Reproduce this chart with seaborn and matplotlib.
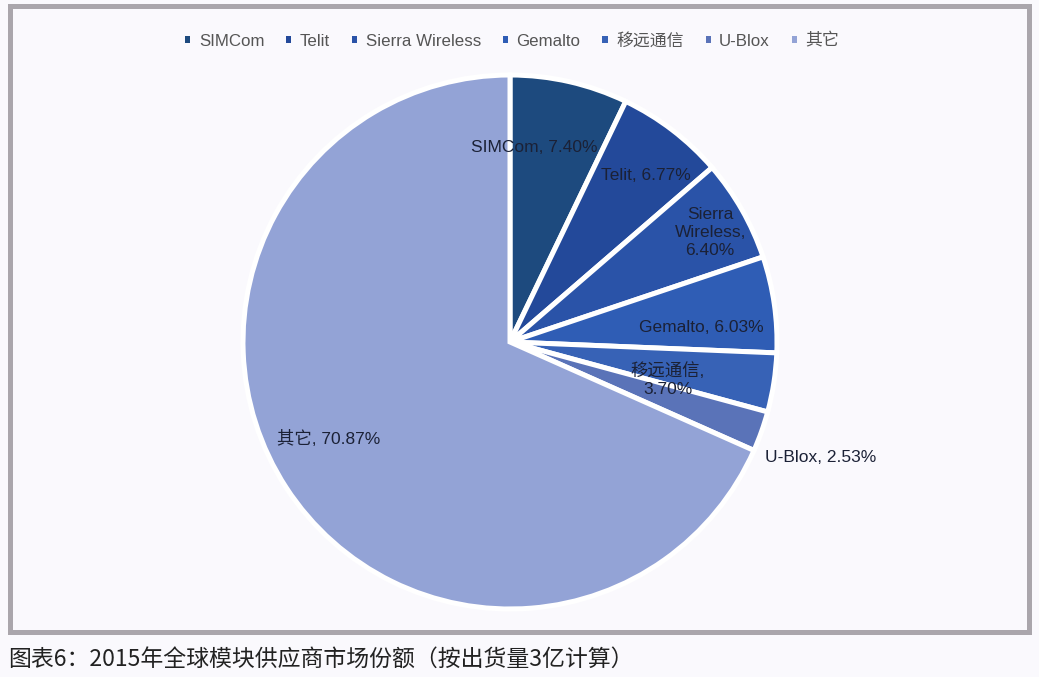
import matplotlib
matplotlib.use("Agg")
import matplotlib.pyplot as plt
import seaborn as sns
from matplotlib.patches import Rectangle, Patch

# data
vendors = ["SIMCom", "Telit", "Sierra Wireless", "Gemalto", "移远通信", "U-Blox", "其它"]
shares = [7.40, 6.77, 6.40, 6.03, 3.70, 2.53, 70.87]
slice_labels = ["SIMCom, 7.40%", "Telit, 6.77%", "Sierra\nWireless,\n6.40%", "Gemalto, 6.03%",
                "移远通信,\n3.70%", "U-Blox, 2.53%", "其它, 70.87%"]
colors = ["#1d4a7e", "#23499a", "#2a53a8", "#2f5db5", "#3762b6", "#5a73b8", "#93a3d6"]
# label anchor points (pie radius units)
label_pos = [(0.09, 0.727), (0.51, 0.625), (0.75, 0.41), (0.715, 0.056),
             (0.59, -0.142), (1.165, -0.431), (-0.678, -0.36)]

sns.set_theme(style="white")
plt.rcParams['font.family'] = ['Liberation Sans', 'Noto Sans CJK SC', 'DejaVu Sans']

fig = plt.figure(figsize=(10.39, 6.77), dpi=100, facecolor="#faf9fd")

# frame around chart
fig.patches.append(Rectangle((9.5 / 1039, 1 - 631.5 / 677), 1019 / 1039, 626 / 677,
                             transform=fig.transFigure, fill=False,
                             edgecolor="#aaa6ac", linewidth=3.6, zorder=0))

W, H = 1039, 677
cx, cy, r = 510, 342, 267
ax = fig.add_axes([(cx - r) / W, (H - cy - r) / H, 2 * r / W, 2 * r / H])
ax.set_facecolor("none")

wedges, _ = ax.pie(shares, colors=colors, startangle=90, counterclock=False,
                   wedgeprops=dict(edgecolor="white", linewidth=3.6))
ax.set_xlim(-1, 1)
ax.set_ylim(-1, 1)
ax.set_aspect("equal")
ax.axis("off")

for txt, (x, y) in zip(slice_labels, label_pos):
    ax.text(x, y, txt, ha="center", va="center", fontsize=12.5, color="#1b2136",
            linespacing=1.25)

handles = [Patch(facecolor=c, edgecolor="none") for c in colors]
fig.legend(handles, vendors, loc="center", bbox_to_anchor=(0.493, 0.94), ncol=7,
           frameon=False, fontsize=12.2, handlelength=0.3, handleheight=0.3,
           handletextpad=0.5, columnspacing=1.3, labelcolor="#555555")

fig.text(8 / W, 1 - 659 / H, "图表6：2015年全球模块供应商市场份额（按出货量3亿计算）",
         ha="left", va="center", fontsize=16.5, color="#222222",
         family=['Noto Sans CJK SC', 'DejaVu Sans'])

fig.savefig("out.png", dpi=100, facecolor=fig.get_facecolor())
